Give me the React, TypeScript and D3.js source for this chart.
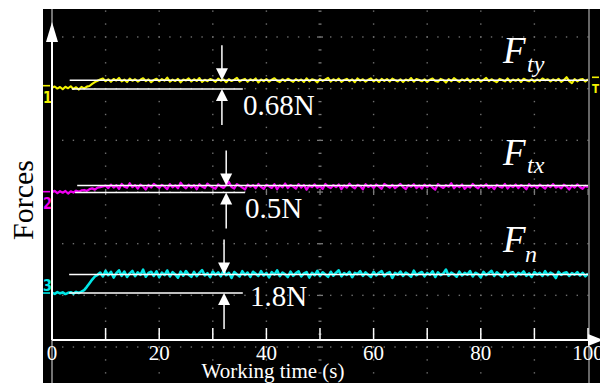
import React from "react";
import * as d3 from "d3";

// ---- data ----
// Sample interval of the recorded traces (seconds)
const SAMPLE_STEP = 0.5;
const timeTicks = [0, 20, 40, 60, 80, 100];

// Tangential force Fty (N, relative to channel ground)
const ftyValues = [
  -0.16, -0.06, -0.22, -0.1, -0.27, -0.08, -0.2, -0.04, -0.25, -0.12, -0.3, -0.09, -0.21, -0.07,
  -0.02, 0.14, 0.28, 0.38,
  0.48, 0.56, 0.35, 0.5, 0.3, 0.52, 0.4, 0.6, 0.33, 0.47, 0.28, 0.55, 0.38, 0.5, 0.32, 0.46, 0.58, 0.36, 0.49, 0.27,
  0.45, 0.54, 0.34, 0.51, 0.39, 0.63, 0.31, 0.47, 0.36, 0.53, 0.26, 0.48, 0.41, 0.57, 0.33, 0.5, 0.37, 0.59, 0.3, 0.46,
  0.35, 0.52, 0.44, 0.29, 0.55, 0.38, 0.49, 0.27, 0.51, 0.36, 0.47, 0.6, 0.32, 0.45, 0.53, 0.3, 0.5, 0.39, 0.56, 0.25,
  0.48, 0.35, 0.52, 0.31, 0.46, 0.58, 0.38, 0.28, 0.5, 0.36, 0.54, 0.42, 0.3, 0.51, 0.37, 0.48, 0.29, 0.57, 0.34, 0.49,
  0.44, 0.26, 0.52, 0.37, 0.48, 0.61, 0.32, 0.5, 0.38, 0.55, 0.3, 0.45, 0.53, 0.35, 0.49, 0.27, 0.56, 0.39, 0.5, 0.31,
  0.46, 0.57, 0.34, 0.49, 0.29, 0.53, 0.37, 0.51, 0.32, 0.55, 0.43, 0.33, 0.5, 0.28, 0.48, 0.38, 0.59, 0.31, 0.52, 0.44,
  0.34, 0.5, 0.29, 0.47, 0.56, 0.37, 0.31, 0.53, 0.45, 0.24, 0.51, 0.35, 0.58, 0.43, 0.3, 0.49, 0.38, 0.55, 0.29, 0.5,
  0.39, 0.54, 0.31, 0.46, 0.6, 0.35, 0.5, 0.37, 0.27, 0.53, 0.44, 0.33, 0.56, 0.3, 0.48, 0.38, 0.51, 0.29, 0.54, 0.42,
  0.34, 0.5, 0.31, 0.48, 0.37, 0.56, 0.43, 0.5, 0.33, 0.49, 0.38, 0.54, 0.3, 0.45, 0.66, 0.36, 0.2, 0.51, 0.34, 0.47,
  0.52, 0.32, 0.5,
];

// Tangential force Ftx (N)
const ftxValues = [
  -0.03, 0.06, -0.1, 0.03, -0.07, 0.05, -0.13, 0.02, -0.06, 0.07,
  0.0, 0.09, 0.12, 0.06, 0.18, 0.24, 0.15, 0.29, 0.32, 0.38,
  0.44, 0.26, 0.5, 0.3, 0.46, 0.2, 0.55, 0.36, 0.28, 0.6, 0.33, 0.47, 0.22, 0.5, 0.38, 0.16, 0.48, 0.3, 0.56, 0.41,
  0.27, 0.49, 0.36, 0.19, 0.54, 0.32, 0.45, 0.25, 0.64, 0.4, 0.24, 0.5, 0.31, 0.46, 0.18, 0.53, 0.37, 0.26, 0.57, 0.42,
  0.3, 0.21, 0.52, 0.38, 0.27, 0.48, 0.7, 0.33, 0.23, 0.54, 0.43, 0.29, 0.17, 0.5, 0.36, 0.47, 0.25, 0.55, 0.34, 0.2,
  0.49, 0.39, 0.27, 0.53, 0.18, 0.45, 0.32, 0.58, 0.26, 0.47, 0.37, 0.22, 0.54, 0.3, 0.48, 0.15, 0.44, 0.33, 0.52, 0.28,
  0.41, 0.2, 0.55, 0.36, 0.26, 0.47, 0.33, 0.51, 0.19, 0.44, 0.3, 0.57, 0.37, 0.24, 0.49, 0.4, 0.17, 0.53, 0.34, 0.46,
  0.27, 0.51, 0.37, 0.21, 0.55, 0.42, 0.29, 0.49, 0.25, 0.4, 0.56, 0.33, 0.19, 0.47, 0.36, 0.53, 0.26, 0.44, 0.22, 0.5,
  0.32, 0.48, 0.3, 0.16, 0.53, 0.39, 0.27, 0.47, 0.36, 0.6, 0.25, 0.44, 0.33, 0.51, 0.21, 0.4, 0.3, 0.55, 0.37, 0.24,
  0.47, 0.34, 0.53, 0.27, 0.41, 0.19, 0.49, 0.36, 0.29, 0.55, 0.23, 0.44, 0.33, 0.51, 0.26, 0.47, 0.37, 0.18, 0.53, 0.35,
  0.43, 0.27, 0.5, 0.37, 0.22, 0.47, 0.33, 0.54, 0.29, 0.4, 0.24, 0.5, 0.37, 0.16, 0.44, 0.3, 0.52, 0.34, 0.21, 0.42,
  0.31,
];

// Normal force Fn (N)
const fnValues = [
  0.04, -0.08, 0.09, -0.03, 0.06, -0.1, 0.02, 0.08, -0.06, 0.11, 0.0, 0.13,
  0.28, 0.6, 0.95, 1.3, 1.6, 1.76,
  1.98, 1.6, 2.15, 1.72, 2.05, 1.5, 1.93, 2.2, 1.66, 2.08, 1.55, 1.9, 2.14, 1.63, 2.0, 1.76, 2.26, 1.58, 1.94, 2.06,
  1.65, 2.1, 1.52, 1.97, 1.74, 2.18, 1.6, 2.02, 1.8, 1.48, 2.07, 1.68, 2.13, 1.77, 1.57, 2.04, 1.64, 1.95, 2.22, 1.7,
  1.92, 1.54, 2.08, 1.76, 2.0, 1.62, 2.16, 1.72, 1.96, 1.46, 2.03, 1.81, 1.6, 2.11, 1.74, 1.98, 1.56, 2.06, 1.86, 1.66,
  2.12, 1.7, 1.94, 1.52, 2.02, 1.78, 2.19, 1.63, 1.98, 1.8, 1.55, 2.07, 1.67, 1.93, 2.1, 1.6, 1.9, 2.03, 1.5, 1.96,
  1.72, 2.14, 1.64, 2.0, 1.79, 1.57, 2.06, 1.68, 1.97, 2.2, 1.62, 1.92, 1.75, 2.04, 1.53, 1.95, 1.82, 2.11, 1.66, 2.0,
  1.77, 1.56, 2.05, 1.7, 1.96, 2.13, 1.63, 1.9, 2.02, 1.47, 1.95, 1.78, 2.08, 1.65, 1.98, 1.8, 1.58, 2.16, 1.72, 1.92,
  2.03, 1.62, 1.94, 1.77, 2.1, 1.55, 2.0, 1.74, 1.9, 2.27, 1.67, 1.97, 1.81, 1.58, 2.06, 1.7, 1.95, 1.78, 2.12, 1.6,
  1.96, 1.83, 1.51, 2.04, 1.74, 1.94, 2.15, 1.65, 2.0, 1.78, 1.57, 2.07, 1.69, 1.92, 2.02, 1.63, 1.96, 1.8, 2.09, 1.67,
  1.9, 1.56, 2.03, 1.79, 1.95, 1.65, 2.11, 1.73, 1.98, 1.82, 1.45, 2.05, 1.76, 1.93, 2.0, 1.66, 1.92, 1.78, 2.02, 1.7,
  1.95, 1.62, 1.88,
];

// Measured step of each force (N) and the level the step is measured from
const stepLabels = ["0.68N", "0.5N", "1.8N"];
const stepValues = [0.68, 0.5, 1.8];
const stepBaseLevels = [-0.26, -0.05, 0];

// ---- layout ----
const W = 600;
const H = 383;
const SCREEN = { x: 43, y: 9, w: 557, h: 374 };
const SERIF = "'Liberation Serif', 'Times New Roman', serif";

const x = d3.scaleLinear().domain([0, 100]).range([52, 588]);
// Oscilloscope vertical divisions, centre line at 0
const yDiv = d3.scaleLinear().domain([-4, 4]).range([398.7, -14.7]);

type Channel = {
  id: string;
  name: string;
  sub: string;
  color: string;
  values: number[];
  offsetDiv: number;
  nPerDiv: number;
  step: number;
  base: number;
  label: string;
  arrowT: number;
  lineStartT: number;
  lowerStartT: number;
  lowerEndT: number;
  markerAbove: boolean;
  width: number;
};

const channels: Channel[] = [
  {
    id: "1", name: "F", sub: "ty", color: "#f2f200", values: ftyValues,
    offsetDiv: 2.057, nPerDiv: 4, step: stepValues[0], base: stepBaseLevels[0], label: stepLabels[0],
    arrowT: 31.7, lineStartT: 3.3, lowerStartT: 3.7, lowerEndT: 35.6, markerAbove: false, width: 2.1,
  },
  {
    id: "2", name: "F", sub: "tx", color: "#f000f0", values: ftxValues,
    offsetDiv: 0.006, nPerDiv: 3.7, step: stepValues[1], base: stepBaseLevels[1], label: stepLabels[1],
    arrowT: 32.5, lineStartT: 4.7, lowerStartT: 4.3, lowerEndT: 36.0, markerAbove: false, width: 2.3,
  },
  {
    id: "3", name: "F", sub: "n", color: "#00e6e6", values: fnValues,
    offsetDiv: -1.955, nPerDiv: 5, step: stepValues[2], base: stepBaseLevels[2], label: stepLabels[2],
    arrowT: 32.1, lineStartT: 3.2, lowerStartT: 3.2, lowerEndT: 35.6, markerAbove: true, width: 2.6,
  },
];

const yOf = (ch: Channel, v: number) => yDiv(ch.offsetDiv + v / ch.nPerDiv);

const labelPos = [
  { fy: 63, sy: 72, tx: 243, ty: 115, sx: 527 },
  { fy: 165, sy: 173, tx: 245, ty: 218, sx: 527 },
  { fy: 252, sy: 262, tx: 250, ty: 306, sx: 525 },
];

function Graticule() {
  const dots: React.ReactNode[] = [];
  const majorCols = d3.range(1, 10).map((k) => x(k * 10));
  const minorRows = d3.range(-4, 4.001, 0.25).map((d) => yDiv(d));
  majorCols.forEach((cx, i) => {
    minorRows.forEach((ry, j) => {
      if (i === 4) {
        const major = j % 4 === 0;
        dots.push(
          <rect key={`c${i}-${j}`} x={cx - (major ? 3 : 1.5)} y={ry - 0.6}
            width={major ? 6 : 3} height={1.3} fill="#7a7a7a" />
        );
      } else {
        dots.push(<rect key={`c${i}-${j}`} x={cx - 0.7} y={ry - 0.7} width={1.4} height={1.4} fill="#6e6e6e" />);
      }
    });
  });
  const majorRows = d3.range(-3, 3.001, 1).map((d) => yDiv(d));
  const minorCols = d3.range(0, 100.001, 2).map((t) => x(t));
  majorRows.forEach((ry, i) => {
    minorCols.forEach((cx, j) => {
      if (i === 3 && j % 5 === 0) {
        dots.push(<rect key={`r${i}-${j}`} x={cx - 0.6} y={ry - 3} width={1.3} height={6} fill="#7a7a7a" />);
      } else {
        dots.push(<rect key={`r${i}-${j}`} x={cx - 0.7} y={ry - 0.7} width={1.4} height={1.4} fill="#6e6e6e" />);
      }
    });
  });
  return <g>{dots}</g>;
}

export default function App() {
  const line = (ch: Channel) =>
    d3
      .line<number>()
      .x((_, i) => x(i * SAMPLE_STEP))
      .y((v) => yOf(ch, v))(ch.values) || "";

  const xAxisY = 340;
  const yAxisX = x(0);
  const ah = 12; // arrowhead length
  const aw = 6; // arrowhead half-width

  return (
    <svg width={W} height={H} style={{ position: "absolute", left: 0, top: 0, background: "#fff" }}>
      <defs>
        <clipPath id="screen">
          <rect x={SCREEN.x} y={SCREEN.y} width={SCREEN.w} height={SCREEN.h} />
        </clipPath>
        <clipPath id="traceArea">
          <rect x={x(0)} y={SCREEN.y} width={x(100) - x(0)} height={SCREEN.h} />
        </clipPath>
      </defs>
      <rect x={SCREEN.x} y={SCREEN.y} width={SCREEN.w} height={SCREEN.h} fill="#000" />

      <g clipPath="url(#screen)">
        <Graticule />
        {/* screen edge lines */}
        <line x1={yAxisX} x2={yAxisX} y1={SCREEN.y} y2={H} stroke="#9a9a9a" strokeWidth={1.5} />
        <line x1={x(100) + 1} x2={x(100) + 1} y1={SCREEN.y} y2={H} stroke="#8a8a8a" strokeWidth={1.5} />

        {/* traces */}
        <g clipPath="url(#traceArea)">
          {channels.map((ch) => (
            <path key={ch.id} d={line(ch)} fill="none" stroke={ch.color} strokeWidth={ch.width} strokeLinejoin="round" />
          ))}
        </g>

        {/* channel ground markers */}
        {channels.map((ch) => {
          const gy = yOf(ch, 0);
          const ty = ch.markerAbove ? gy - 2 : gy + 17;
          return (
            <g key={`m${ch.id}`} fill={ch.color}>
              <rect x={43} y={gy - 0.8} width={7} height={1.6} />
              <text transform={`translate(43,${ty}) scale(0.8,1)`} fontFamily="'DejaVu Sans', sans-serif"
                fontWeight="bold" fontSize={16}>
                {ch.id}
              </text>
            </g>
          );
        })}
        {/* trigger marker */}
        <g fill={channels[0].color}>
          <rect x={592} y={76.5} width={7} height={1.6} />
          <text transform="translate(595.5,93) scale(0.8,1)" textAnchor="middle" fontFamily="'DejaVu Sans', sans-serif"
            fontWeight="bold" fontSize={13}>
            T
          </text>
        </g>

        {/* step measurements */}
        {channels.map((ch, i) => {
          const yLow = yOf(ch, ch.base);
          const yHigh = yOf(ch, ch.base + ch.step);
          const ax = x(ch.arrowT);
          const p = labelPos[i];
          return (
            <g key={`s${ch.id}`}>
              <line x1={x(ch.lineStartT)} x2={x(100)} y1={yHigh} y2={yHigh} stroke="#fff" strokeWidth={1.5} />
              <line x1={x(ch.lowerStartT)} x2={x(ch.lowerEndT)} y1={yLow} y2={yLow} stroke="#fff" strokeWidth={1.5} />
              <line x1={ax} x2={ax} y1={yHigh - 35} y2={yHigh - ah + 1} stroke="#fff" strokeWidth={1.5} />
              <path d={`M${ax},${yHigh}L${ax - aw},${yHigh - ah}L${ax + aw},${yHigh - ah}Z`} fill="#fff" />
              <line x1={ax} x2={ax} y1={yLow + ah - 1} y2={yLow + 36} stroke="#fff" strokeWidth={1.5} />
              <path d={`M${ax},${yLow}L${ax - aw},${yLow + ah}L${ax + aw},${yLow + ah}Z`} fill="#fff" />
              <text x={p.tx} y={p.ty} fill="#fff" fontFamily={SERIF} fontSize={29}>
                {ch.label}
              </text>
              <text x={503} y={p.fy} fill="#fff" fontFamily={SERIF} fontStyle="italic" fontSize={37}>
                {ch.name}
              </text>
              <text x={p.sx} y={p.sy} fill="#fff" fontFamily={SERIF} fontStyle="italic" fontSize={24}>
                {ch.sub}
              </text>
            </g>
          );
        })}

        {/* axes */}
        <line x1={yAxisX} x2={yAxisX} y1={40} y2={xAxisY} stroke="#fff" strokeWidth={2} />
        <path d={`M${yAxisX},22L${yAxisX - aw},42L${yAxisX + aw},42Z`} fill="#fff" />
        <line x1={yAxisX} x2={590} y1={xAxisY} y2={xAxisY} stroke="#fff" strokeWidth={2} />
        <path d={`M603,${xAxisY}L588,${xAxisY - aw}L588,${xAxisY + aw}Z`} fill="#fff" />
        {d3.range(10, 100.001, 10).map((t) => (
          <line key={`t${t}`} x1={x(t)} x2={x(t)} y1={xAxisY - 12} y2={xAxisY} stroke="#fff" strokeWidth={1.5} />
        ))}
        {timeTicks.map((t) => (
          <text key={`l${t}`} x={x(t)} y={360} textAnchor="middle" fill="#fff" fontFamily={SERIF} fontSize={21}>
            {t}
          </text>
        ))}
        <text x={273} y={378} textAnchor="middle" fill="#fff" fontFamily={SERIF} fontSize={21}>
          Working time (s)
        </text>
      </g>

      <text transform="translate(33,200) rotate(-90)" textAnchor="middle" fill="#000" fontFamily={SERIF} fontSize={30}>
        Forces
      </text>
    </svg>
  );
}
